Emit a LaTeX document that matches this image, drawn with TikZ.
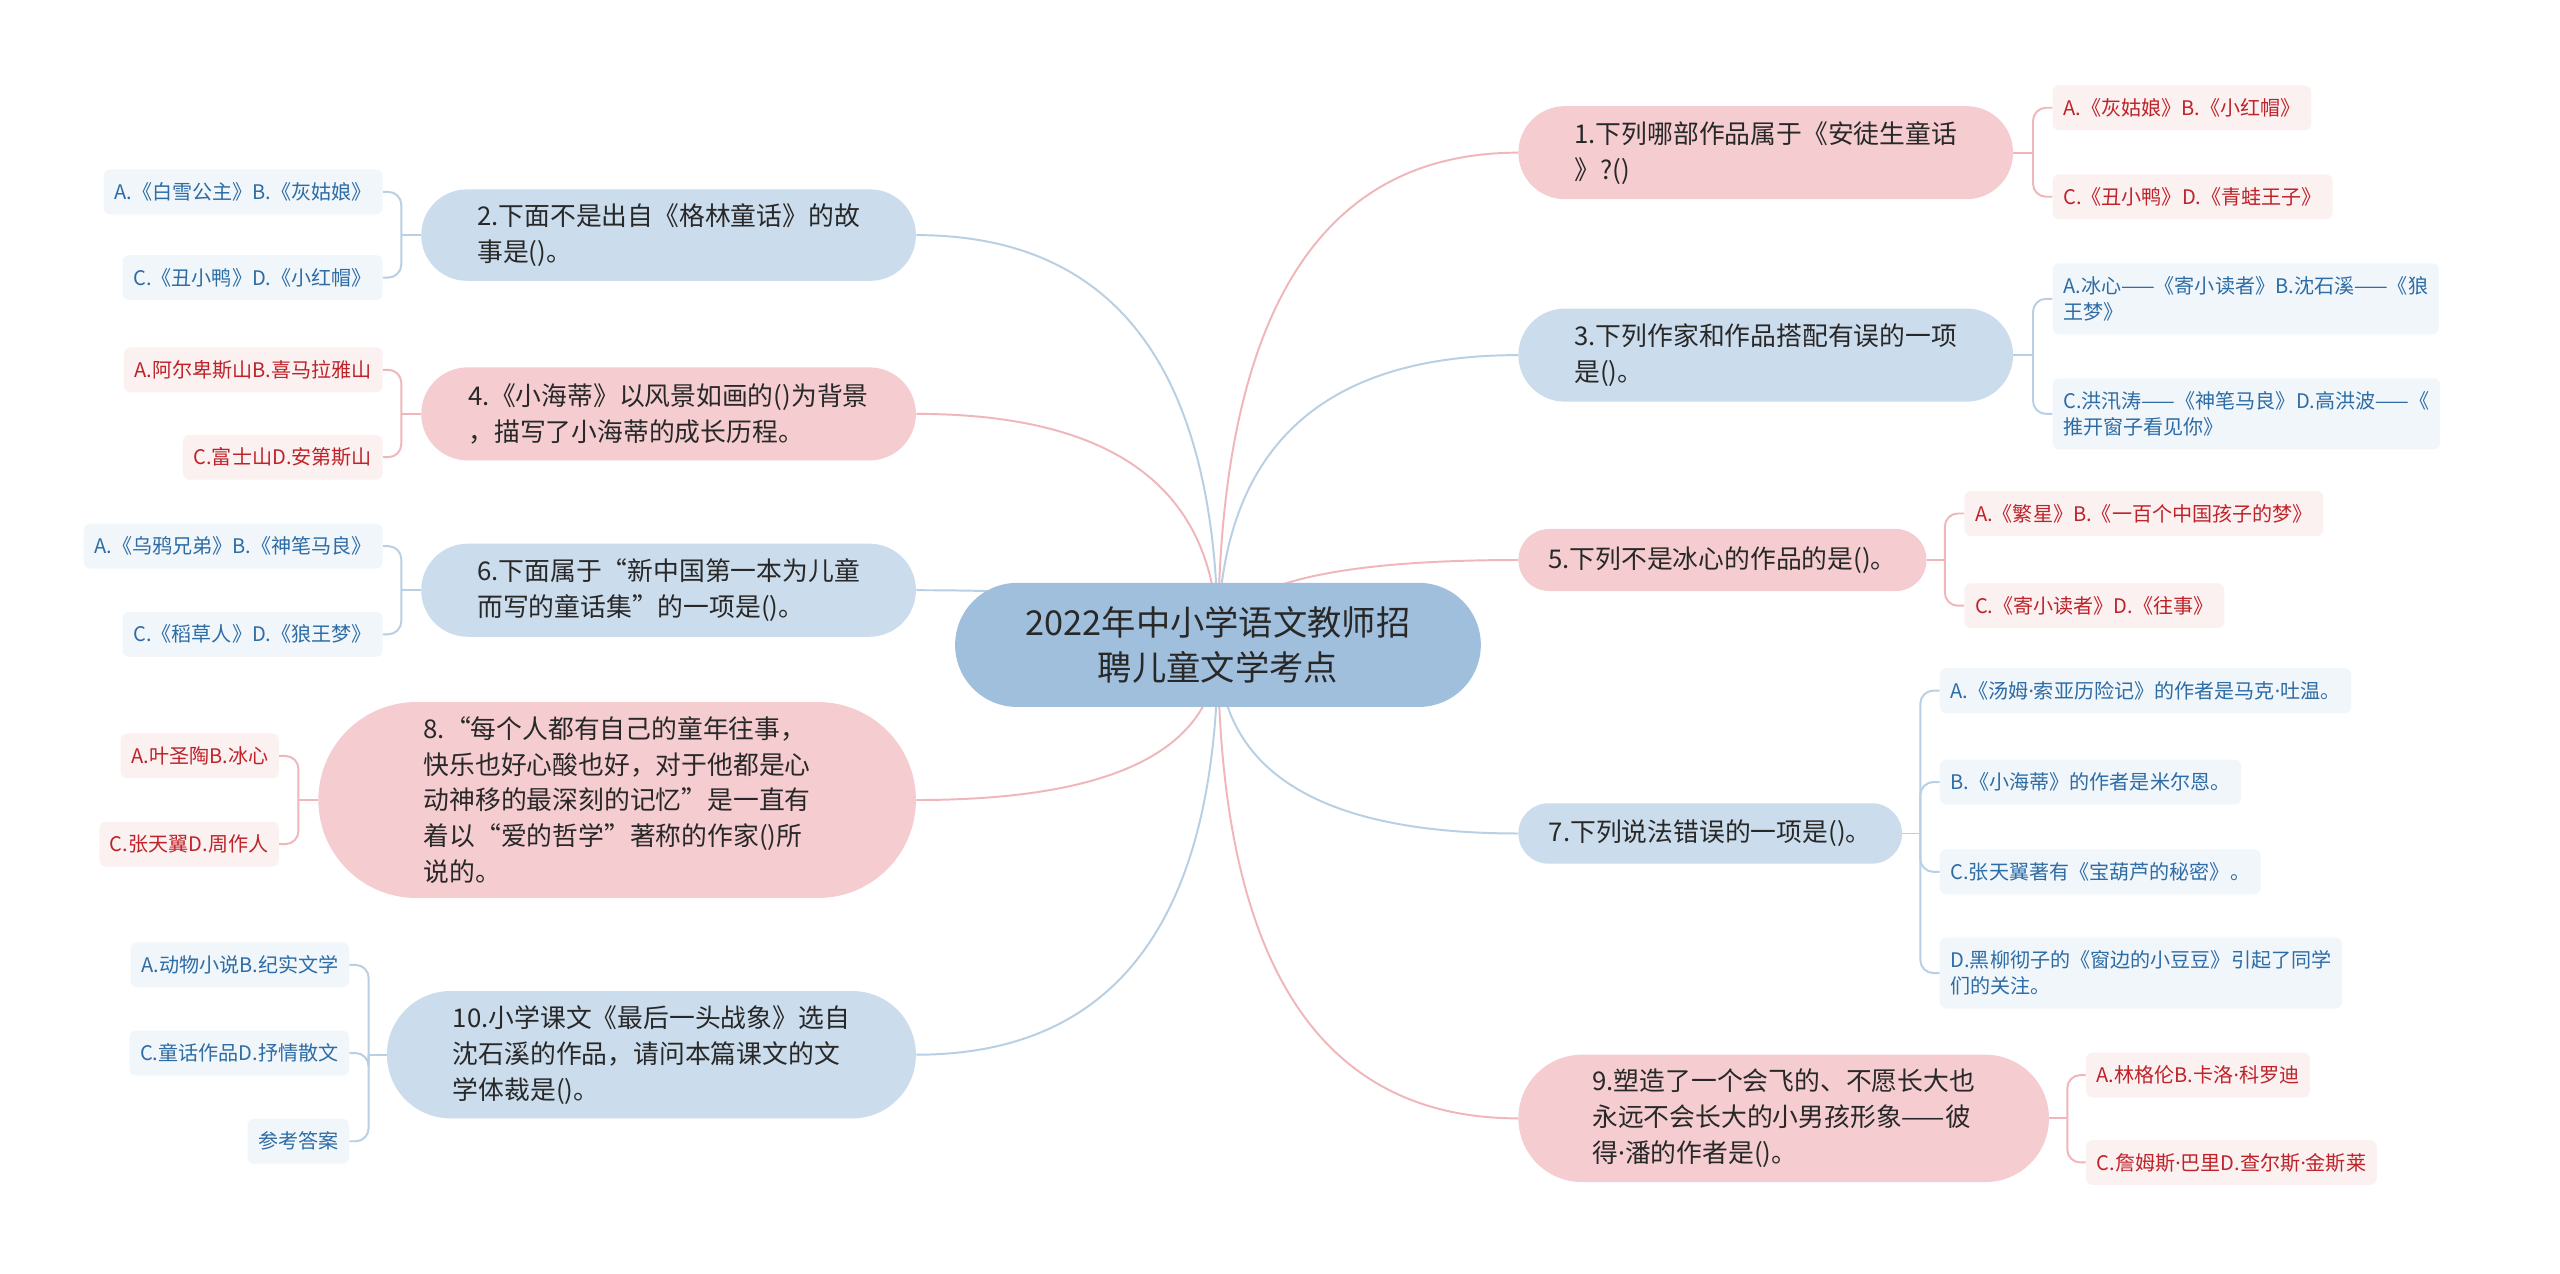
\documentclass[tikz,border=0pt]{standalone}
\usepackage{fontspec}
\setmainfont{Noto Sans CJK SC}
\newfontfamily\latinf{Noto Sans}
\newcommand{\mdot}{{\latinf ·}}
\usetikzlibrary{shapes.misc,calc,backgrounds}
\definecolor{rootc}{RGB}{160,191,220}
\definecolor{pinkm}{RGB}{245,205,208}
\definecolor{bluem}{RGB}{203,220,236}
\definecolor{pinkl}{RGB}{240,183,187}
\definecolor{bluel}{RGB}{184,207,228}
\definecolor{leafpf}{RGB}{252,241,241}
\definecolor{leafbf}{RGB}{241,246,251}
\definecolor{leafpt}{RGB}{190,35,42}
\definecolor{leafbt}{RGB}{45,108,165}
\definecolor{txt}{RGB}{40,40,40}
\newcommand{\rlink}[2]{\draw[#1] (root.center) .. controls ($(root.center)!0.667!(root.center |- #2)$) and ($(#2)!0.667!(root.center |- #2)$) .. (#2);}
\begin{document}
\begin{tikzpicture}[x=1pt,y=-1pt,
  rootnode/.style={rounded rectangle, fill=rootc, minimum width=322pt, minimum height=76pt, inner xsep=0pt, align=center, text=txt, font=\fontsize{21}{28}\selectfont},
  mainnode/.style={rounded rectangle, inner xsep=0pt, inner ysep=2pt, align=left, text=txt, font=\fontsize{15.8}{22}\selectfont},
  pinkmain/.style={mainnode, fill=pinkm},
  bluemain/.style={mainnode, fill=bluem},
  leaf/.style={rectangle, rounded corners=4pt, inner xsep=6.5pt, inner ysep=3pt, minimum height=27.5pt, align=left, font=\fontsize{12.3}{16}\selectfont},
  tall/.style={minimum height=43.5pt},
  pinkleaf/.style={leaf, fill=leafpf, text=leafpt},
  blueleaf/.style={leaf, fill=leafbf, text=leafbt},
  pinkline/.style={draw=pinkl, line width=1.2pt},
  blueline/.style={draw=bluel, line width=1.2pt},
  brk/.style={rounded corners=8pt}]
\useasboundingbox (0,0) rectangle (1568,780);

% root
\node[rootnode] (root) at (746,395) {2022年中小学语文教师招\\聘儿童文学考点};

% right main nodes
\node[pinkmain, minimum width=303pt, minimum height=57pt] (q1) at (1081.5,93.5) {1.下列哪部作品属于《安徒生童话\\》?()};
\node[bluemain, minimum width=303pt, minimum height=57pt] (q3) at (1081.5,217.5) {3.下列作家和作品搭配有误的一项\\是()。};
\node[pinkmain, minimum width=250pt, minimum height=38pt] (q5) at (1055,343) {5.下列不是冰心的作品的是()。};
\node[bluemain, minimum width=235pt, minimum height=37pt] (q7) at (1047.5,510.5) {7.下列说法错误的一项是()。};
\node[pinkmain, minimum width=325pt, minimum height=78pt] (q9) at (1092.5,685) {9.塑造了一个会飞的、不愿长大也\\永远不会长大的小男孩形象——彼\\得\mdot 潘的作者是()。};

% left main nodes
\node[bluemain, minimum width=303pt, minimum height=56pt] (q2) at (409.5,144) {2.下面不是出自《格林童话》的故\\事是()。};
\node[pinkmain, minimum width=303pt, minimum height=57pt] (q4) at (409.5,253.5) {4.《小海蒂》以风景如画的()为背景\\，描写了小海蒂的成长历程。};
\node[bluemain, minimum width=303pt, minimum height=57pt] (q6) at (409.5,361.5) {6.下面属于“新中国第一本为儿童\\而写的童话集”的一项是()。};
\node[pinkmain, minimum width=366pt, minimum height=120pt] (q8) at (378,490) {8.“每个人都有自己的童年往事，\\快乐也好心酸也好，对于他都是心\\动神移的最深刻的记忆”是一直有\\着以“爱的哲学”著称的作家()所\\说的。};
\node[bluemain, minimum width=324pt, minimum height=78pt] (q10) at (399,646) {10.小学课文《最后一头战象》选自\\沈石溪的作品，请问本篇课文的文\\学体裁是()。};

% right leaves
\node[pinkleaf, anchor=west] (l1a) at (1257,66) {A.《灰姑娘》B.《小红帽》};
\node[pinkleaf, anchor=west] (l1b) at (1257,120.5) {C.《丑小鸭》D.《青蛙王子》};
\node[blueleaf, tall, anchor=west] (l3a) at (1257,183) {A.冰心——《寄小读者》B.沈石溪——《狼\\王梦》};
\node[blueleaf, tall, anchor=west] (l3b) at (1257,253.5) {C.洪汛涛——《神笔马良》D.高洪波——《\\推开窗子看见你》};
\node[pinkleaf, anchor=west] (l5a) at (1203,314.5) {A.《繁星》B.《一百个中国孩子的梦》};
\node[pinkleaf, anchor=west] (l5b) at (1203,371) {C.《寄小读者》D.《往事》};
\node[blueleaf, anchor=west] (l7a) at (1188,423) {A.《汤姆\mdot 索亚历险记》的作者是马克\mdot 吐温。};
\node[blueleaf, anchor=west] (l7b) at (1188,479) {B.《小海蒂》的作者是米尔恩。};
\node[blueleaf, anchor=west] (l7c) at (1188,534) {C.张天翼著有《宝葫芦的秘密》。};
\node[blueleaf, tall, anchor=west] (l7d) at (1188,596) {D.黑柳彻子的《窗边的小豆豆》引起了同学\\们的关注。};
\node[pinkleaf, anchor=west] (l9a) at (1277.5,658.5) {A.林格伦B.卡洛\mdot 科罗迪};
\node[pinkleaf, anchor=west] (l9b) at (1277.5,712) {C.詹姆斯\mdot 巴里D.查尔斯\mdot 金斯莱};

% left leaves
\node[blueleaf, anchor=east] (l2a) at (234.5,117.5) {A.《白雪公主》B.《灰姑娘》};
\node[blueleaf, anchor=east] (l2b) at (234.5,170) {C.《丑小鸭》D.《小红帽》};
\node[pinkleaf, anchor=east] (l4a) at (234.5,226.5) {A.阿尔卑斯山B.喜马拉雅山};
\node[pinkleaf, anchor=east] (l4b) at (234.5,280) {C.富士山D.安第斯山};
\node[blueleaf, anchor=east] (l6a) at (234.5,334.5) {A.《乌鸦兄弟》B.《神笔马良》};
\node[blueleaf, anchor=east] (l6b) at (234.5,388.5) {C.《稻草人》D.《狼王梦》};
\node[pinkleaf, anchor=east] (l8a) at (171,463) {A.叶圣陶B.冰心};
\node[pinkleaf, anchor=east] (l8b) at (171,517) {C.张天翼D.周作人};
\node[blueleaf, anchor=east] (l10a) at (214,591) {A.动物小说B.纪实文学};
\node[blueleaf, anchor=east] (l10b) at (214,645) {C.童话作品D.抒情散文};
\node[blueleaf, anchor=east] (l10c) at (214,699) {参考答案};

% junction points
\coordinate (j1) at ($(q1.east)+(12,0)$);
\coordinate (j3) at ($(q3.east)+(12,0)$);
\coordinate (j5) at ($(q5.east)+(11,0)$);
\coordinate (j7) at ($(q7.east)+(11,0)$);
\coordinate (j9) at ($(q9.east)+(11,0)$);
\coordinate (j2) at ($(q2.west)+(-12,0)$);
\coordinate (j4) at ($(q4.west)+(-12,0)$);
\coordinate (j6) at ($(q6.west)+(-12,0)$);
\coordinate (j8) at ($(q8.west)+(-12,0)$);
\coordinate (j10) at ($(q10.west)+(-11,0)$);

\begin{pgfonlayer}{background}
\fill[white] (0,0) rectangle (1568,780);
% root links
\rlink{pinkline}{q1.west}
\rlink{blueline}{q3.west}
\rlink{pinkline}{q5.west}
\rlink{blueline}{q7.west}
\rlink{pinkline}{q9.west}
\rlink{blueline}{q2.east}
\rlink{pinkline}{q4.east}
\rlink{blueline}{q6.east}
\rlink{pinkline}{q8.east}
\rlink{blueline}{q10.east}
% leaf brackets right
\draw[pinkline] (q1.east) -- (j1);
\draw[pinkline,brk] (j1) |- (l1a.west);
\draw[pinkline,brk] (j1) |- (l1b.west);
\draw[blueline] (q3.east) -- (j3);
\draw[blueline,brk] (j3) |- (l3a.west);
\draw[blueline,brk] (j3) |- (l3b.west);
\draw[pinkline] (q5.east) -- (j5);
\draw[pinkline,brk] (j5) |- (l5a.west);
\draw[pinkline,brk] (j5) |- (l5b.west);
\draw[blueline] (q7.east) -- (j7);
\draw[blueline,brk] (j7) |- (l7a.west);
\draw[blueline,brk] (j7) |- (l7b.west);
\draw[blueline,brk] (j7) |- (l7c.west);
\draw[blueline,brk] (j7) |- (l7d.west);
\draw[pinkline] (q9.east) -- (j9);
\draw[pinkline,brk] (j9) |- (l9a.west);
\draw[pinkline,brk] (j9) |- (l9b.west);
% leaf brackets left
\draw[blueline] (q2.west) -- (j2);
\draw[blueline,brk] (j2) |- (l2a.east);
\draw[blueline,brk] (j2) |- (l2b.east);
\draw[pinkline] (q4.west) -- (j4);
\draw[pinkline,brk] (j4) |- (l4a.east);
\draw[pinkline,brk] (j4) |- (l4b.east);
\draw[blueline] (q6.west) -- (j6);
\draw[blueline,brk] (j6) |- (l6a.east);
\draw[blueline,brk] (j6) |- (l6b.east);
\draw[pinkline] (q8.west) -- (j8);
\draw[pinkline,brk] (j8) |- (l8a.east);
\draw[pinkline,brk] (j8) |- (l8b.east);
\draw[blueline] (q10.west) -- (j10);
\draw[blueline,brk] (j10) |- (l10a.east);
\draw[blueline,brk] (j10) |- (l10b.east);
\draw[blueline,brk] (j10) |- (l10c.east);
\end{pgfonlayer}
\end{tikzpicture}
\end{document}
